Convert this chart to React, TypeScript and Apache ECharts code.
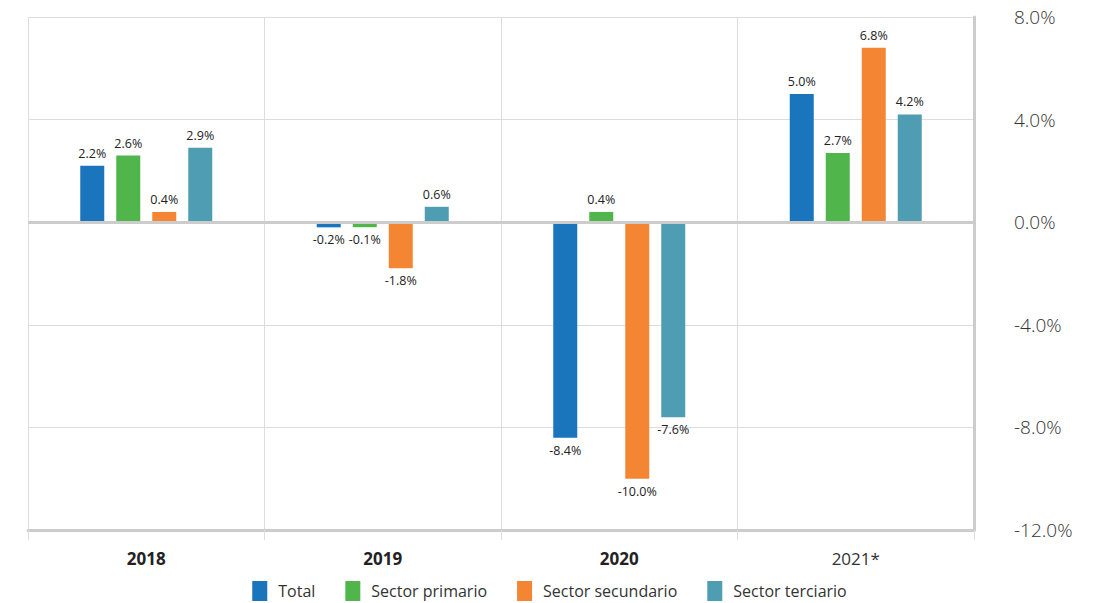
import React, { useEffect, useRef } from "react";
import * as echarts from "echarts";

const categories = ["2018", "2019", "2020", "2021*"];
const seriesNames = ["Total", "Sector primario", "Sector secundario", "Sector terciario"];
const totalValues = [2.2, -0.2, -8.4, 5.0];
const primarioValues = [2.6, -0.1, 0.4, 2.7];
const secundarioValues = [0.4, -1.8, -10.0, 6.8];
const terciarioValues = [2.9, 0.6, -7.6, 4.2];
const colors = ["#1a75bc", "#50b54a", "#f48633", "#4f9db3"];

const FONT = "'Open Sans', 'Noto Sans', sans-serif";

export default function App() {
  const ref = useRef<HTMLDivElement>(null);
  useEffect(() => {
    document.body.style.margin = "0";
    if (!ref.current) return;
    const chart = echarts.init(ref.current, undefined, { renderer: "svg" });
    const allValues = [totalValues, primarioValues, secundarioValues, terciarioValues];
    const series: any[] = allValues.map((vals, i) => ({
      name: seriesNames[i],
      type: "bar",
      z: 3,
      data: vals.map((v) => ({
        value: v,
        label: { position: v >= 0 ? "top" : "bottom" },
      })),
      barWidth: 24,
      barGap: "50%",
      barMinHeight: 5,
      itemStyle: { color: colors[i] },
      label: {
        show: true,
        formatter: (p: any) => Number(p.value).toFixed(1) + "%",
        fontSize: 12.5,
        fontFamily: FONT,
        fontWeight: 500,
        color: "#222",
        distance: 6,
      },
    }));
    series.push({
      name: "zero",
      type: "line",
      data: [],
      z: 1,
      silent: true,
      markLine: {
        silent: true,
        symbol: "none",
        label: { show: false },
        lineStyle: { color: "#cccccc", width: 3, type: "solid" },
        data: [{ yAxis: 0 }],
      },
    });
    chart.setOption({
      animation: false,
      grid: { left: 28, right: 125, top: 17, bottom: 73, containLabel: false },
      legend: {
        bottom: -3,
        left: "center",
        itemWidth: 15,
        itemHeight: 20,
        itemGap: 30,
        icon: "rect",
        textStyle: { fontSize: 16, fontFamily: FONT, color: "#333", padding: [0, 0, 0, 6] },
        data: seriesNames,
      },
      xAxis: {
        type: "category",
        data: categories,
        position: "bottom",
        axisLine: { onZero: false, show: true, lineStyle: { color: "#cccccc", width: 3 } },
        axisTick: { show: true, length: 10, lineStyle: { color: "#dddddd", width: 1 } },
        splitLine: { show: true, lineStyle: { color: "#dddddd", width: 1 } },
        axisLabel: {
          margin: 20,
          formatter: (v: string) => (v.indexOf("*") >= 0 ? "{n|" + v + "}" : "{b|" + v + "}"),
          rich: {
            b: { fontSize: 17, fontWeight: "bold", fontFamily: FONT, color: "#222" },
            n: { fontSize: 17, fontWeight: "normal", fontFamily: FONT, color: "#333" },
          },
        },
      },
      yAxis: {
        type: "value",
        position: "right",
        min: -12,
        max: 8,
        interval: 4,
        axisLine: { show: true, lineStyle: { color: "#cccccc", width: 3 } },
        axisTick: { show: false },
        splitLine: { show: true, lineStyle: { color: "#dddddd", width: 1 } },
        axisLabel: {
          margin: 40,
          align: "left",
          fontSize: 19,
          fontWeight: 300,
          fontFamily: FONT,
          color: "#333",
          formatter: (v: number) => v.toFixed(1) + "%",
        },
      },
      series,
    });
    return () => chart.dispose();
  }, []);
  return <div ref={ref} style={{ width: 1099, height: 603 }} />;
}
